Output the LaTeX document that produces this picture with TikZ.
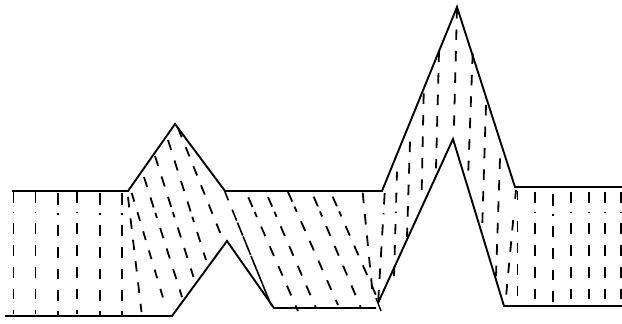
\documentclass[tikz,border=0pt]{standalone}
\tikzset{
  outline/.style={line width=1.9pt, black},
  hatch/.style={line width=1.8pt, black, dash pattern=on 10.5pt off 11pt},
  hatchA/.style={line width=1.8pt, black, dash pattern=on 10.5pt off 5.5pt on 5.5pt off 10.5pt on 10.5pt off 11pt on 10.5pt off 11pt on 10.5pt off 11pt on 10.5pt off 11pt on 10.5pt off 11pt},
  hatchB/.style={line width=1.8pt, black, dash pattern=on 10.5pt off 11pt on 10.5pt off 5.5pt on 5.5pt off 10.5pt on 10.5pt off 11pt on 10.5pt off 11pt on 10.5pt off 11pt on 10.5pt off 11pt on 10.5pt off 11pt},
  hatchC/.style={line width=1.8pt, black, dash pattern=on 10.5pt off 11pt on 10.5pt off 11pt on 10.5pt off 5.5pt on 5.5pt off 10.5pt on 10.5pt off 11pt on 10.5pt off 11pt on 10.5pt off 11pt on 10.5pt off 11pt},
  hatchD/.style={line width=1.8pt, black, dash pattern=on 10.5pt off 11pt on 10.5pt off 11pt on 10.5pt off 11pt on 10.5pt off 5.5pt on 5.5pt off 10.5pt on 10.5pt off 11pt on 10.5pt off 11pt on 10.5pt off 11pt},
  % columns with the dot row
  column/.style={line width=1.8pt, black, dash pattern=on 11.5pt off 8.5pt on 1.5pt off 10pt on 11pt off 11pt on 11pt off 11pt on 10.5pt off 11pt on 10.5pt off 10.5pt on 4pt off 100pt},
  columnB/.style={line width=1.8pt, black, dash pattern=on 9pt off 12pt on 10pt off 9pt on 1.5pt off 11pt on 10pt off 11pt on 10pt off 11pt on 10pt off 11pt},
  % columns where the dot row is missing
  gapcolumn/.style={line width=1.8pt, black, dash pattern=on 9pt off 21pt on 10.5pt off 11pt on 10.5pt off 11pt on 10.5pt off 11pt on 10.5pt off 100pt},
}

\begin{document}
\begin{tikzpicture}[x=1pt, y=-1pt]
\useasboundingbox (0,0) rectangle (622,324);

% === Upper surface ===
\draw[outline] (12,191) -- (128,191) -- (175,124) -- (225,191) -- (382,191)
    -- (457,7) -- (515,187) -- (622,187);

% === Lower surface ===
\draw[outline] (5,316) -- (172,316) -- (227,241) -- (274,308) -- (376,308);
\draw[outline] (378,303) -- (453,139) -- (504,306) -- (622,306);
\draw[outline, line width=1.4pt] (376,298) -- (381,311);

% === Straight columns, left ===
\foreach \x/\y in {13.5/191.7, 35.5/191.7, 57.7/193, 77.3/191.7, 99.7/193, 121.7/193} {
    \draw[column] (\x,\y) -- (\x,316);
}

% === Straight columns, right ===
\foreach \x/\y in {535/191.7, 553/194, 571/191.7, 589/191.7, 605/191.7, 621/191.7} {
    \draw[column] (\x,\y) -- (\x,306);
}

% === Slanted lines through the small peak ===
\draw[hatch] (128,197) -- (141.5,312);
\draw[hatch, dash pattern=on 9pt off 11pt] (131.7,193) -- (164,301);
\draw[hatchB] (144,177) -- (182,297);
\draw[hatchC] (155,156) -- (193.5,277);
\draw[hatchD] (168,140) -- (206,260);
\draw[hatch, dash pattern=on 10pt off 10.6pt] (178,128) -- (221,235);
\draw[line width=1.6pt, dash pattern=on 9pt off 10pt on 12pt off 2pt on 14pt off 1pt on 20pt off 1pt on 60pt] (225,192) -- (271,305);

% === Slanted lines through the flat part ===
\draw[hatchA] (248.3,197.3) -- (298,311);
\draw[hatchA] (268,197) -- (316,308);
\draw[hatchA] (288,192) -- (338,305);
\draw[hatchA] (313.7,196.7) -- (361,308);
\draw[hatchA] (332.7,196.7) -- (379,302);
\draw[hatch] (362.7,192.7) -- (372.3,290);

% === Nearly straight lines through the tall peak ===
\draw[column] (384.7,193) -- (378,305);
\draw[columnB] (397,171.7) -- (394,277);
\draw[hatch] (410,141.7) -- (407,237);
\draw[hatch] (423.7,93.3) -- (421.7,190);
\draw[hatch] (439,51.7) -- (436,168.3);
\draw[hatch] (457,8) -- (454,125.7);
\draw[hatch] (472.7,53.3) -- (468.3,170.7);
\draw[hatch] (486,105) -- (482,233.3);
\draw[hatch] (500,158.3) -- (496,276.7);

% === Double lines at the right foot ===
\draw[gapcolumn] (516,190) -- (506,297);
\draw[gapcolumn] (517.5,191) -- (517.5,297);

\end{tikzpicture}
\end{document}
